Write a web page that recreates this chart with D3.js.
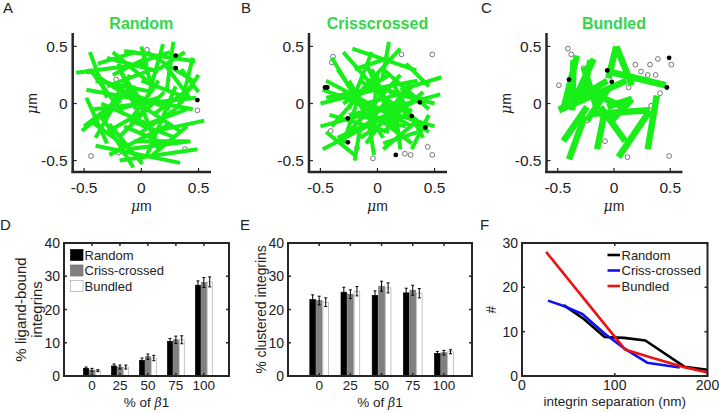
<!DOCTYPE html>
<html><head><meta charset="utf-8">
<script src="https://cdn.jsdelivr.net/npm/d3@7"></script>
<style>body{margin:0;background:#fff} svg{display:block} text{font-family:"Liberation Sans",Arial,Helvetica,sans-serif;fill:#222}</style>
</head><body><svg id="c" width="719" height="413"></svg>
<script>
// ---------- DATA ----------
// Top panels: filament segments [x1,y1,x2,y2] in µm
const segRandom = [
[-0.57,0.27,0.06,0.35],[-0.15,0.46,0.47,0.37],[0.19,0.52,0.06,0.06],[0.28,0.54,0.22,0.10],
[-0.45,0.45,-0.30,0.05],[-0.40,0.20,0.10,0.10],[-0.48,0.12,0.45,-0.05],[-0.42,-0.05,0.48,0.05],
[0.05,0.45,0.45,0.20],[0.50,0.25,0.30,-0.05],[0.45,0.40,0.35,0.00],[-0.30,0.40,0.15,0.28],
[-0.20,0.35,-0.05,-0.05],[-0.10,0.25,-0.35,-0.15],[-0.50,-0.20,-0.05,0.15],[-0.45,0.30,-0.15,-0.10],
[0.10,0.30,-0.30,0.15],[0.00,0.20,0.40,0.05],[-0.35,0.00,0.10,-0.20],[-0.40,-0.30,-0.20,0.05],
[-0.45,-0.15,-0.10,-0.40],[-0.40,-0.37,0.34,-0.52],[-0.19,-0.50,0.49,-0.40],[-0.13,-0.40,0.43,-0.33],
[-0.06,-0.33,0.40,-0.33],[0.13,-0.24,0.55,-0.15],[-0.34,-0.12,-0.07,-0.56],[0.01,-0.53,-0.28,-0.18],
[0.25,-0.18,-0.28,-0.45],[-0.52,-0.24,-0.18,0.03],[0.20,0.10,-0.20,-0.30],[0.30,0.15,0.05,-0.45],
[0.40,-0.05,0.00,-0.20],[-0.10,0.05,0.35,-0.25],[0.10,-0.10,0.45,0.15],[-0.25,0.15,0.25,-0.05],
[0.05,0.40,-0.25,0.25],[0.38,0.45,0.15,0.30],[-0.05,0.10,0.15,-0.40],[0.30,-0.30,-0.10,-0.15],
[-0.38,0.35,-0.05,0.45],[0.20,0.35,0.42,0.05],[-0.30,-0.25,0.05,-0.05],[0.15,0.20,-0.10,-0.15],
[-0.48,0.05,-0.30,-0.35],[0.00,-0.25,0.30,-0.05],[0.10,-0.45,0.40,-0.20],[-0.25,0.45,0.05,0.20],
[0.35,0.30,0.50,0.10],[-0.15,-0.20,0.20,-0.35],[0.05,-0.05,-0.20,0.30],[-0.40,0.25,-0.10,0.05],
[0.25,0.45,-0.05,0.35],[-0.20,-0.05,0.15,0.05],[0.00,0.50,0.10,0.10]
];
const segCriss = [
[-0.22,0.48,0.34,0.29],[0.10,0.54,0.04,0.20],[0.56,0.23,0.20,0.12],[-0.50,-0.20,0.55,0.08],
[-0.48,-0.40,0.10,-0.10],[-0.45,0.05,0.35,0.20],[-0.30,0.45,0.05,0.05],[-0.40,0.40,-0.10,-0.10],
[0.20,0.48,-0.20,0.05],[-0.45,0.20,0.30,-0.20],[-0.35,-0.30,0.40,0.05],[-0.20,-0.50,-0.15,-0.20],
[-0.03,-0.45,-0.08,-0.15],[0.20,-0.40,0.15,0.00],[0.30,-0.40,0.45,-0.10],[-0.30,0.10,0.30,-0.35],
[-0.50,0.00,0.10,0.15],[0.05,0.30,0.45,-0.05],[-0.10,0.35,0.20,-0.30],[-0.25,-0.25,0.20,0.25],
[-0.42,-0.10,0.10,-0.25],[0.00,-0.05,0.50,-0.20],[0.10,0.10,0.50,0.00],[-0.15,0.20,0.35,-0.15],
[-0.35,0.30,0.05,-0.30],[0.30,0.20,-0.10,-0.35],[-0.05,0.45,-0.25,-0.05],[-0.48,0.12,0.00,-0.05],
[0.15,0.15,0.40,-0.30],[-0.10,0.00,0.25,0.10],[-0.20,-0.10,0.25,-0.20],[0.35,-0.15,0.05,-0.40],
[-0.15,0.10,-0.30,-0.35],[0.00,0.25,-0.05,-0.25],[-0.05,0.15,0.35,0.05],[0.25,0.35,0.45,0.15],
[-0.40,-0.20,-0.05,0.20],[0.05,-0.25,0.30,-0.05],[-0.10,-0.20,0.10,0.05],[0.15,-0.15,-0.05,0.30],
[-0.30,0.00,0.10,0.25],[0.20,0.00,-0.25,-0.10],[-0.20,0.30,0.10,0.40],[0.40,0.10,0.10,-0.15],
[-0.45,-0.25,-0.20,-0.45],[0.05,-0.35,0.35,-0.25],[-0.25,0.20,-0.05,-0.15],[0.10,-0.10,0.30,0.15],
[-0.15,-0.30,0.15,-0.10],[0.25,-0.10,0.45,-0.25]
];
const segBundled = [
[0.02,0.50,-0.05,0.22],[0.02,0.50,0.16,0.16],[-0.33,0.42,-0.45,-0.05],[-0.36,0.38,-0.37,-0.06],
[-0.49,-0.06,0.11,0.20],[-0.39,-0.05,-0.18,0.39],[-0.21,0.38,-0.29,0.01],[-0.27,0.32,-0.15,-0.05],
[-0.05,0.28,0.46,0.16],[-0.18,-0.09,0.32,-0.06],[0.32,-0.06,0.04,-0.47],[-0.12,-0.03,0.10,-0.33],
[0.38,0.07,0.30,-0.40],[-0.45,-0.33,-0.24,-0.03],[-0.40,-0.49,-0.26,-0.11],[-0.15,-0.40,-0.09,-0.11],
[-0.06,-0.03,0.16,0.04],[0.16,0.04,-0.02,-0.15],[-0.24,-0.15,-0.05,0.13],[-0.30,0.14,0.08,-0.03],
[-0.48,-0.05,-0.06,0.20]
];
// unbound (open) and bound (filled) integrins [x,y] in µm
const openRandom = [[0.05,0.47],[-0.21,0.38],[-0.04,0.34],[-0.22,0.21],[0.49,-0.06],[-0.44,-0.46],[-0.20,-0.43],[-0.15,-0.43],[-0.01,-0.49],[0.38,-0.40],[-0.46,0.28]];
const boundRandom = [[0.30,0.42],[0.30,0.31],[0.49,0.03]];
const openCriss = [[-0.39,0.41],[-0.40,0.36],[0.21,0.43],[0.48,0.43],[-0.18,-0.39],[-0.04,-0.48],[0.24,-0.44],[0.29,-0.45],[0.44,-0.38],[0.48,-0.45],[-0.41,-0.24]];
const boundCriss = [[-0.46,0.14],[-0.44,0.14],[-0.26,-0.13],[-0.26,-0.34],[0.16,-0.45],[0.37,0.01],[0.42,-0.21],[0.30,-0.11]];
const openBundled = [[-0.41,0.48],[-0.38,0.43],[-0.49,0.16],[-0.27,0.31],[0.19,0.34],[0.32,0.34],[0.39,0.39],[0.51,0.34],[0.24,0.28],[0.30,0.25],[0.37,0.25],[0.13,0.14],[0.41,0.09],[0.33,-0.02],[-0.24,-0.15],[-0.08,-0.33],[0.12,-0.47],[0.49,-0.46]];
const boundBundled = [[0.49,0.40],[-0.40,0.21],[-0.02,0.19],[0.47,0.14],[-0.06,0.29]];
const topTicks = [-0.5, 0, 0.5];
const topTickLabels = ["-0.5", "0", "0.5"];

// Bar panels
const categories = ["0","25","50","75","100"];
const seriesNames = ["Random","Criss-crossed","Bundled"];
const ligandRandom  = [2.3, 3.0, 4.7, 10.4, 27.3];
const ligandCriss   = [1.8, 2.7, 5.8, 10.9, 28.1];
const ligandBundled = [1.6, 2.7, 5.4, 10.9, 28.3];
const ligandErrRandom  = [0.4, 0.6, 0.7, 0.9, 1.3];
const ligandErrCriss   = [0.5, 0.6, 0.8, 1.1, 1.5];
const ligandErrBundled = [0.3, 0.6, 0.8, 1.2, 1.5];
const clusterRandom  = [23.0, 25.2, 24.2, 25.0, 6.8];
const clusterCriss   = [22.7, 24.6, 27.0, 25.8, 7.0];
const clusterBundled = [22.2, 25.5, 26.5, 24.9, 7.3];
const clusterErrRandom  = [1.4, 1.5, 1.4, 1.4, 0.6];
const clusterErrCriss   = [1.3, 1.3, 1.5, 1.5, 0.7];
const clusterErrBundled = [1.3, 1.4, 1.5, 1.4, 0.6];
const barTicksY = [0, 10, 20, 30, 40];

// Line panel: [separation nm, count]
const sepRandom  = [[45,16],[67,12.8],[89,8.8],[110,8.6],[133,8],[175,2.1],[200,1.4]];
const sepCriss   = [[28,17],[45,15.8],[65,14],[89,9.6],[111,6.1],[135,3],[170,1.9]];
const sepBundled = [[26,28],[111,6],[140,4.1],[175,2],[200,0.8]];
const sepTicksX = [0, 100, 200];
const sepTicksY = [0, 10, 20, 30];

// ---------- DRAW ----------
const svg = d3.select("#c");
const AX = "#262626";
const GREEN = "#18ee18";

function letter(t, x, y) {
  svg.append("text").attr("x", x).attr("y", y).attr("font-size", 15).text(t);
}
function muLabel(g, x, y, rot) {
  const t = g.append("text").attr("text-anchor", "middle").attr("font-size", 14)
    .attr("transform", `translate(${x},${y})` + (rot ? " rotate(-90)" : ""));
  t.append("tspan").attr("font-style", "italic").attr("font-family", "'DejaVu Serif',serif").text("\u03bc");
  t.append("tspan").text("m");
  return t;
}

function scatterPanel(cfg) {
  const g = svg.append("g");
  const x = d3.scaleLinear().domain([-0.6, 0.6]).range([cfg.x0, cfg.x1]);
  const y = d3.scaleLinear().domain([-0.6, 0.6]).range([172, 35]);
  g.append("text").attr("x", x(0)).attr("y", 28.5).attr("text-anchor", "middle")
    .attr("font-size", 16).attr("font-weight", "bold").style("fill", "#33d64a").text(cfg.title);
  g.selectAll(".oc").data(cfg.open).enter().append("circle")
    .attr("cx", d => x(d[0])).attr("cy", d => y(d[1])).attr("r", 2.4)
    .attr("fill", "#fff").attr("stroke", "#555").attr("stroke-width", 0.8);
  g.selectAll(".sg").data(cfg.segs).enter().append("line")
    .attr("x1", d => x(d[0])).attr("y1", d => y(d[1])).attr("x2", d => x(d[2])).attr("y2", d => y(d[3]))
    .attr("stroke", GREEN).attr("stroke-width", cfg.lw).attr("stroke-linecap", "butt");
  g.selectAll(".bc").data(cfg.bound).enter().append("circle")
    .attr("cx", d => x(d[0])).attr("cy", d => y(d[1])).attr("r", 2.4).attr("fill", "#000");
  g.append("line").attr("x1", cfg.x0).attr("x2", cfg.x0).attr("y1", 33).attr("y2", 173)
    .attr("stroke", AX).attr("stroke-width", 2.5);
  g.append("line").attr("x1", cfg.x0 - 1.2).attr("x2", cfg.x1 + 1).attr("y1", 172).attr("y2", 172)
    .attr("stroke", AX).attr("stroke-width", 2.5);
  topTicks.forEach((v, i) => {
    g.append("line").attr("x1", x(v)).attr("x2", x(v)).attr("y1", 172).attr("y2", 168).attr("stroke", AX).attr("stroke-width", 1.2);
    g.append("line").attr("x1", cfg.x0).attr("x2", cfg.x0 + 4).attr("y1", y(v)).attr("y2", y(v)).attr("stroke", AX).attr("stroke-width", 1.2);
    g.append("text").attr("x", x(v)).attr("y", 193).attr("text-anchor", "middle").attr("font-size", 15.5).text(topTickLabels[i]);
    g.append("text").attr("x", cfg.x0 - 5).attr("y", y(v) + 5.5).attr("text-anchor", "end").attr("font-size", 15.5).text(topTickLabels[i]);
  });
  muLabel(g, x(0), 210.5, false);
  const yl = muLabel(g, cfg.x0 - 36, y(0), true);
  if (cfg.clipX) {
    const id = "clip" + cfg.title;
    svg.append("clipPath").attr("id", id).append("rect").attr("x", cfg.clipX).attr("y", 0).attr("width", 100).attr("height", 413);
    yl.attr("clip-path", `url(#${id})`);
  }
}

scatterPanel({x0: 72.7, x1: 210, title: "Random", segs: segRandom, open: openRandom, bound: boundRandom, lw: 4});
scatterPanel({x0: 309, x1: 446, title: "Crisscrossed", segs: segCriss, open: openCriss, bound: boundCriss, lw: 4, clipX: 268});
scatterPanel({x0: 546.5, x1: 681.5, title: "Bundled", segs: segBundled, open: openBundled, bound: boundBundled, lw: 6.5});
letter("A", 3, 13); letter("B", 241, 13); letter("C", 481, 13);

// ----- bar panels -----
const barFill = ["#000000", "#808080", "#ffffff"];
const barStroke = ["#000000", "#707070", "#a8a8a8"];

function boxAxes(g, x0, x1, y0, y1) {
  g.append("rect").attr("x", x0).attr("y", y0).attr("width", x1 - x0).attr("height", y1 - y0)
    .attr("fill", "none").attr("stroke", AX).attr("stroke-width", 2);
}

function barPanel(cfg) {
  const g = svg.append("g");
  const x = d3.scaleLinear().domain([0, 5.9]).range([cfg.x0, cfg.x1]);
  const y = d3.scaleLinear().domain([0, 40]).range([376, 243]);
  const sp = x(1) - x(0);
  cfg.vals.forEach((vals, s) => {
    vals.forEach((v, i) => {
      const cx = x(i + 1) + (s - 1) * 0.21 * sp;
      const w = 0.18 * sp;
      g.append("rect").attr("x", cx - w / 2).attr("y", y(v)).attr("width", w).attr("height", y(0) - y(v))
        .attr("fill", barFill[s]).attr("stroke", barStroke[s]).attr("stroke-width", 0.7);
      const e = cfg.errs[s][i];
      g.append("line").attr("x1", cx).attr("x2", cx).attr("y1", y(v - e)).attr("y2", y(v + e)).attr("stroke", "#000").attr("stroke-width", 1);
      [v - e, v + e].forEach(t => g.append("line").attr("x1", cx - 1.5).attr("x2", cx + 1.5).attr("y1", y(t)).attr("y2", y(t)).attr("stroke", "#000").attr("stroke-width", 1));
    });
  });
  boxAxes(g, cfg.x0, cfg.x1, 243, 376);
  categories.forEach((c, i) => {
    const xx = x(i + 1);
    g.append("line").attr("x1", xx).attr("x2", xx).attr("y1", 376).attr("y2", 373).attr("stroke", AX).attr("stroke-width", 1.5);
    g.append("line").attr("x1", xx).attr("x2", xx).attr("y1", 243).attr("y2", 246).attr("stroke", AX).attr("stroke-width", 1.5);
    g.append("text").attr("x", xx).attr("y", 390).attr("text-anchor", "middle").attr("font-size", 13.5).text(c);
  });
  barTicksY.forEach(v => {
    g.append("line").attr("x1", cfg.x0).attr("x2", cfg.x0 + 3).attr("y1", y(v)).attr("y2", y(v)).attr("stroke", AX).attr("stroke-width", 1.5);
    g.append("line").attr("x1", cfg.x1).attr("x2", cfg.x1 - 3).attr("y1", y(v)).attr("y2", y(v)).attr("stroke", AX).attr("stroke-width", 1.5);
    g.append("text").attr("x", cfg.x0 - 4).attr("y", y(v) + 5).attr("text-anchor", "end").attr("font-size", 14).text(v);
  });
  const xl = g.append("text").attr("x", (cfg.x0 + cfg.x1) / 2).attr("y", 407).attr("text-anchor", "middle").attr("font-size", 13.5);
  xl.append("tspan").text("% of ");
  xl.append("tspan").attr("font-style", "italic").attr("font-family", "'DejaVu Serif',serif").attr("font-size", 12.5).text("\u03b2");
  xl.append("tspan").text("1");
  cfg.ylab.forEach((l, k) => {
    g.append("text").attr("text-anchor", "middle").attr("font-size", cfg.ylabSize)
      .attr("transform", `translate(${cfg.ylabX[k]},${(243 + 376) / 2}) rotate(-90)`).text(l);
  });
  return g;
}

const gD = barPanel({x0: 64, x1: 229, vals: [ligandRandom, ligandCriss, ligandBundled],
  errs: [ligandErrRandom, ligandErrCriss, ligandErrBundled], ylab: ["% ligand-bound", "integrins"], ylabX: [26, 42], ylabSize: 15});
const gE = barPanel({x0: 288, x1: 472, vals: [clusterRandom, clusterCriss, clusterBundled],
  errs: [clusterErrRandom, clusterErrCriss, clusterErrBundled], ylab: ["% clustered integrins"], ylabX: [266], ylabSize: 13.8});

seriesNames.forEach((n, s) => {
  const yy = 255 + s * 15.5;
  gD.append("rect").attr("x", 70.5).attr("y", yy - 5.5).attr("width", 12.5).attr("height", 11)
    .attr("fill", barFill[s]).attr("stroke", barStroke[s]).attr("stroke-width", 0.7);
  gD.append("text").attr("x", 84.5).attr("y", yy + 4.7).attr("font-size", 13).text(n);
});

letter("D", 0, 230); letter("E", 240, 230); letter("F", 480, 230);

// ----- line panel F -----
(function () {
  const g = svg.append("g");
  const x0 = 522, x1 = 707.5;
  const x = d3.scaleLinear().domain([0, 200]).range([x0, x1]);
  const y = d3.scaleLinear().domain([0, 30]).range([376, 243]);
  const line = d3.line().x(d => x(d[0])).y(d => y(d[1]));
  const ser = [[sepRandom, "#000000"], [sepCriss, "#1010f0"], [sepBundled, "#ee1111"]];
  ser.forEach(([d, c]) => g.append("path").attr("d", line(d)).attr("fill", "none").attr("stroke", c).attr("stroke-width", 2.6).attr("stroke-linejoin", "round"));
  boxAxes(g, x0, x1, 243, 376);
  sepTicksX.forEach(v => {
    g.append("line").attr("x1", x(v)).attr("x2", x(v)).attr("y1", 376).attr("y2", 373).attr("stroke", AX).attr("stroke-width", 1.5);
    g.append("line").attr("x1", x(v)).attr("x2", x(v)).attr("y1", 243).attr("y2", 246).attr("stroke", AX).attr("stroke-width", 1.5);
    g.append("text").attr("x", x(v)).attr("y", 390).attr("text-anchor", "middle").attr("font-size", 14).text(v);
  });
  sepTicksY.forEach(v => {
    g.append("line").attr("x1", x0).attr("x2", x0 + 3).attr("y1", y(v)).attr("y2", y(v)).attr("stroke", AX).attr("stroke-width", 1.5);
    g.append("line").attr("x1", x1).attr("x2", x1 - 3).attr("y1", y(v)).attr("y2", y(v)).attr("stroke", AX).attr("stroke-width", 1.5);
    g.append("text").attr("x", x0 - 4).attr("y", y(v) + 5).attr("text-anchor", "end").attr("font-size", 14).text(v);
  });
  g.append("text").attr("x", (x0 + x1) / 2).attr("y", 406).attr("text-anchor", "middle").attr("font-size", 13.5).text("integrin separation (nm)");
  g.append("text").attr("text-anchor", "middle").attr("font-size", 14)
    .attr("transform", `translate(496,${(243 + 376) / 2}) rotate(-90)`).text("#");
  seriesNames.forEach((n, s) => {
    const yy = 255 + s * 15.5;
    g.append("line").attr("x1", 607.5).attr("x2", 620).attr("y1", yy).attr("y2", yy).attr("stroke", ser[s][1]).attr("stroke-width", 2.6);
    g.append("text").attr("x", 621.5).attr("y", yy + 4.7).attr("font-size", 13).text(n);
  });
})();
</script></body></html>
